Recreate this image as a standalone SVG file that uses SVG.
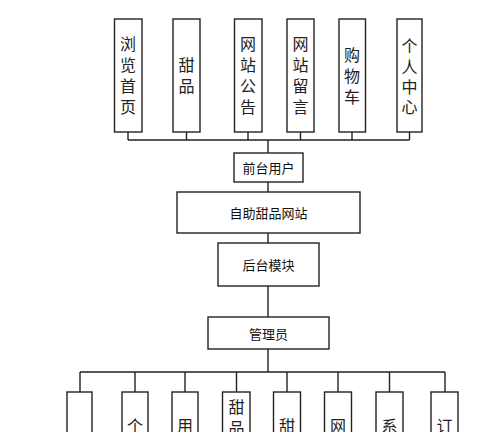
<svg xmlns="http://www.w3.org/2000/svg" width="500" height="432" viewBox="0 0 500 432">
<style>
.box{fill:#fff;stroke:#222;stroke-width:1.4}
.ln{fill:none;stroke:#222;stroke-width:1.4}
.v{font-family:"Liberation Serif","Noto Sans CJK SC",serif;font-size:16px;fill:#222;text-anchor:middle;dominant-baseline:central}
.h{font-family:"Noto Sans CJK SC",sans-serif;font-size:13px;fill:#111;text-anchor:middle;dominant-baseline:central}
</style>
<rect width="500" height="432" fill="#fff"/>
<g id="connectors" class="ln">
<path d="M128,132V140M186.5,132V140M248,132V140M300.5,132V140M352,132V140M409.5,132V140M128,140H409.5M268,140V153M268,182V192M268,233V243M268,286V317M268,349V372M80,372H445M80,372V392M135,372V392M185,372V392M236.5,372V392M287,372V392M338,372V392M389.5,372V392M445,372V392"/>
</g>
<g id="n1"><rect class="box" x="114.5" y="19" width="27.5" height="113"/><text class="v" x="128" y="44">浏</text><text class="v" x="128" y="65">览</text><text class="v" x="128" y="86">首</text><text class="v" x="128" y="107">页</text></g>
<g id="n2"><rect class="box" x="173" y="19" width="27" height="113"/><text class="v" x="186.5" y="65">甜</text><text class="v" x="186.5" y="86">品</text></g>
<g id="n3"><rect class="box" x="234.5" y="19" width="27.5" height="113"/><text class="v" x="248" y="44">网</text><text class="v" x="248" y="65">站</text><text class="v" x="248" y="86">公</text><text class="v" x="248" y="107">告</text></g>
<g id="n4"><rect class="box" x="287" y="19" width="27" height="113"/><text class="v" x="300.5" y="44">网</text><text class="v" x="300.5" y="65">站</text><text class="v" x="300.5" y="86">留</text><text class="v" x="300.5" y="107">言</text></g>
<g id="n5"><rect class="box" x="339" y="19" width="26.5" height="113"/><text class="v" x="352" y="55">购</text><text class="v" x="352" y="76">物</text><text class="v" x="352" y="97">车</text></g>
<g id="n6"><rect class="box" x="397" y="19" width="25" height="113"/><text class="v" x="409.5" y="46">个</text><text class="v" x="409.5" y="67">人</text><text class="v" x="409.5" y="87">中</text><text class="v" x="409.5" y="107">心</text></g>
<g id="front"><rect class="box" x="234" y="153" width="69" height="29"/><text class="h" x="268.5" y="167.5">前台用户</text></g>
<g id="site"><rect class="box" x="177" y="192" width="183" height="41"/><text class="h" x="268.5" y="212.5">自助甜品网站</text></g>
<g id="back"><rect class="box" x="218" y="243" width="101" height="43"/><text class="h" x="268.5" y="264.5">后台模块</text></g>
<g id="admin"><rect class="box" x="208" y="317" width="121" height="32"/><text class="h" x="268.5" y="333">管理员</text></g>
<g id="b1"><rect class="box" x="67" y="392" width="25" height="60"/></g>
<g id="b2"><rect class="box" x="122" y="392" width="26" height="60"/><text class="v" x="135" y="426">个</text></g>
<g id="b3"><rect class="box" x="172" y="392" width="26" height="60"/><text class="v" x="185" y="426">用</text></g>
<g id="b4"><rect class="box" x="222.5" y="392" width="27.5" height="60"/><text class="v" x="236.5" y="407">甜</text><text class="v" x="236.5" y="428">品</text></g>
<g id="b5"><rect class="box" x="273.5" y="392" width="27" height="60"/><text class="v" x="287" y="426">甜</text></g>
<g id="b6"><rect class="box" x="324.5" y="392" width="27" height="60"/><text class="v" x="338" y="426">网</text></g>
<g id="b7"><rect class="box" x="376" y="392" width="27" height="60"/><text class="v" x="389.5" y="426">系</text></g>
<g id="b8"><rect class="box" x="431" y="392" width="27" height="60"/><text class="v" x="444.5" y="426">订</text></g>
</svg>
